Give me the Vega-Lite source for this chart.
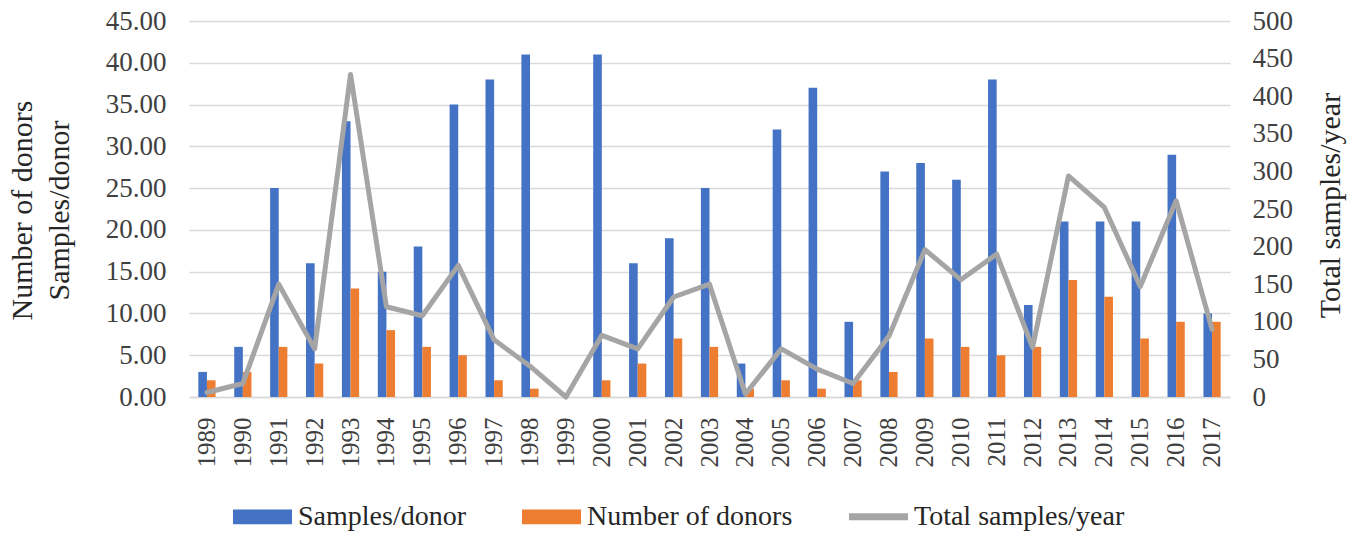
{
  "$schema": "https://vega.github.io/schema/vega-lite/v6.json",
  "autosize": {"type": "none"},
  "padding": {"left": 189, "top": 21, "right": 125, "bottom": 136},
  "width": 1041,
  "height": 376,
  "background": "white",
  "config": {
    "font": "Liberation Serif",
    "view": {"stroke": null},
    "axis": {"labelFont": "Liberation Serif", "titleFont": "Liberation Serif", "labelColor": "#404040", "titleColor": "#262626", "labelFontSize": 27, "titleFontSize": 30, "titleFontWeight": "normal", "ticks": false, "domain": false}
  },
  "data": {"values": [
    {"year": "1989", "series": "Samples/donor", "value": 3}, {"year": "1989", "series": "Number of donors", "value": 2}, {"year": "1989", "series": "Total samples/year", "value": 6},
    {"year": "1990", "series": "Samples/donor", "value": 6}, {"year": "1990", "series": "Number of donors", "value": 3}, {"year": "1990", "series": "Total samples/year", "value": 18},
    {"year": "1991", "series": "Samples/donor", "value": 25}, {"year": "1991", "series": "Number of donors", "value": 6}, {"year": "1991", "series": "Total samples/year", "value": 150},
    {"year": "1992", "series": "Samples/donor", "value": 16}, {"year": "1992", "series": "Number of donors", "value": 4}, {"year": "1992", "series": "Total samples/year", "value": 64},
    {"year": "1993", "series": "Samples/donor", "value": 33}, {"year": "1993", "series": "Number of donors", "value": 13}, {"year": "1993", "series": "Total samples/year", "value": 429},
    {"year": "1994", "series": "Samples/donor", "value": 15}, {"year": "1994", "series": "Number of donors", "value": 8}, {"year": "1994", "series": "Total samples/year", "value": 120},
    {"year": "1995", "series": "Samples/donor", "value": 18}, {"year": "1995", "series": "Number of donors", "value": 6}, {"year": "1995", "series": "Total samples/year", "value": 108},
    {"year": "1996", "series": "Samples/donor", "value": 35}, {"year": "1996", "series": "Number of donors", "value": 5}, {"year": "1996", "series": "Total samples/year", "value": 175},
    {"year": "1997", "series": "Samples/donor", "value": 38}, {"year": "1997", "series": "Number of donors", "value": 2}, {"year": "1997", "series": "Total samples/year", "value": 76},
    {"year": "1998", "series": "Samples/donor", "value": 41}, {"year": "1998", "series": "Number of donors", "value": 1}, {"year": "1998", "series": "Total samples/year", "value": 41},
    {"year": "1999", "series": "Samples/donor", "value": 0}, {"year": "1999", "series": "Number of donors", "value": 0}, {"year": "1999", "series": "Total samples/year", "value": 0},
    {"year": "2000", "series": "Samples/donor", "value": 41}, {"year": "2000", "series": "Number of donors", "value": 2}, {"year": "2000", "series": "Total samples/year", "value": 82},
    {"year": "2001", "series": "Samples/donor", "value": 16}, {"year": "2001", "series": "Number of donors", "value": 4}, {"year": "2001", "series": "Total samples/year", "value": 64},
    {"year": "2002", "series": "Samples/donor", "value": 19}, {"year": "2002", "series": "Number of donors", "value": 7}, {"year": "2002", "series": "Total samples/year", "value": 133},
    {"year": "2003", "series": "Samples/donor", "value": 25}, {"year": "2003", "series": "Number of donors", "value": 6}, {"year": "2003", "series": "Total samples/year", "value": 150},
    {"year": "2004", "series": "Samples/donor", "value": 4}, {"year": "2004", "series": "Number of donors", "value": 1}, {"year": "2004", "series": "Total samples/year", "value": 4},
    {"year": "2005", "series": "Samples/donor", "value": 32}, {"year": "2005", "series": "Number of donors", "value": 2}, {"year": "2005", "series": "Total samples/year", "value": 64},
    {"year": "2006", "series": "Samples/donor", "value": 37}, {"year": "2006", "series": "Number of donors", "value": 1}, {"year": "2006", "series": "Total samples/year", "value": 37},
    {"year": "2007", "series": "Samples/donor", "value": 9}, {"year": "2007", "series": "Number of donors", "value": 2}, {"year": "2007", "series": "Total samples/year", "value": 18},
    {"year": "2008", "series": "Samples/donor", "value": 27}, {"year": "2008", "series": "Number of donors", "value": 3}, {"year": "2008", "series": "Total samples/year", "value": 81},
    {"year": "2009", "series": "Samples/donor", "value": 28}, {"year": "2009", "series": "Number of donors", "value": 7}, {"year": "2009", "series": "Total samples/year", "value": 196},
    {"year": "2010", "series": "Samples/donor", "value": 26}, {"year": "2010", "series": "Number of donors", "value": 6}, {"year": "2010", "series": "Total samples/year", "value": 156},
    {"year": "2011", "series": "Samples/donor", "value": 38}, {"year": "2011", "series": "Number of donors", "value": 5}, {"year": "2011", "series": "Total samples/year", "value": 190},
    {"year": "2012", "series": "Samples/donor", "value": 11}, {"year": "2012", "series": "Number of donors", "value": 6}, {"year": "2012", "series": "Total samples/year", "value": 66},
    {"year": "2013", "series": "Samples/donor", "value": 21}, {"year": "2013", "series": "Number of donors", "value": 14}, {"year": "2013", "series": "Total samples/year", "value": 294},
    {"year": "2014", "series": "Samples/donor", "value": 21}, {"year": "2014", "series": "Number of donors", "value": 12}, {"year": "2014", "series": "Total samples/year", "value": 252},
    {"year": "2015", "series": "Samples/donor", "value": 21}, {"year": "2015", "series": "Number of donors", "value": 7}, {"year": "2015", "series": "Total samples/year", "value": 147},
    {"year": "2016", "series": "Samples/donor", "value": 29}, {"year": "2016", "series": "Number of donors", "value": 9}, {"year": "2016", "series": "Total samples/year", "value": 261},
    {"year": "2017", "series": "Samples/donor", "value": 10}, {"year": "2017", "series": "Number of donors", "value": 9}, {"year": "2017", "series": "Total samples/year", "value": 90}
  ]},
  "encoding": {
    "x": {"field": "year", "type": "nominal", "sort": null,
      "scale": {"paddingInner": 0.52, "paddingOuter": 0.26},
      "axis": {"title": null, "labelAngle": -90, "labelFontSize": 25, "labelPadding": 20, "domain": true, "domainColor": "#d9d9d9", "domainWidth": 1.5, "grid": false}}
  },
  "layer": [
    {
      "transform": [{"filter": "datum.series !== 'Total samples/year'"}],
      "mark": {"type": "bar"},
      "encoding": {
        "xOffset": {"field": "series", "type": "nominal", "sort": ["Samples/donor", "Number of donors"], "scale": {"paddingInner": 0, "paddingOuter": 0}},
        "y": {"field": "value", "type": "quantitative",
          "scale": {"domain": [0, 45], "nice": false},
          "axis": {"title": ["Number of donors", "Samples/donor"], "values": [0, 5, 10, 15, 20, 25, 30, 35, 40, 45], "format": ".2f", "labelPadding": 23, "titleAngle": -90, "titleAlign": "center", "titleBaseline": "middle", "titleLineHeight": 37, "titleX": -167, "titleY": 189, "grid": true, "gridColor": "#d9d9d9", "gridWidth": 1.5}},
        "color": {"field": "series", "type": "nominal",
          "scale": {"domain": ["Samples/donor", "Number of donors", "Total samples/year"], "range": ["#4472c4", "#ed7d31", "#a5a5a5"]},
          "legend": {"title": null, "orient": "none", "legendX": 44, "legendY": 466, "direction": "horizontal", "labelFontSize": 28, "labelFont": "Liberation Serif", "labelColor": "#262626", "labelLimit": 0, "symbolSize": 3481, "symbolType": "M-1,-0.25H1V0.25H-1Z", "columnPadding": 56, "labelOffset": 6,
            "encode": {"symbols": {"update": {"shape": {"signal": "datum.value === 'Total samples/year' ? 'M-1,-0.12H1V0.12H-1Z' : 'M-1,-0.25H1V0.25H-1Z'"}, "fill": {"scale": "color", "field": "value"}, "stroke": {"value": "transparent"}, "strokeWidth": {"value": 0}, "opacity": {"value": 1}}}}}}
      }
    },
    {
      "transform": [{"filter": "datum.series === 'Total samples/year'"}],
      "mark": {"type": "line", "strokeWidth": 5, "strokeJoin": "round", "strokeCap": "round"},
      "encoding": {
        "y": {"field": "value", "type": "quantitative",
          "scale": {"domain": [0, 500], "nice": false},
          "axis": {"orient": "right", "title": "Total samples/year", "values": [0, 50, 100, 150, 200, 250, 300, 350, 400, 450, 500], "labelPadding": 22, "titleAngle": -90, "titleAlign": "center", "titleBaseline": "middle", "titleX": 100, "titleY": 184, "grid": false}},
        "color": {"field": "series", "type": "nominal"}
      }
    }
  ],
  "resolve": {"scale": {"y": "independent"}}
}
